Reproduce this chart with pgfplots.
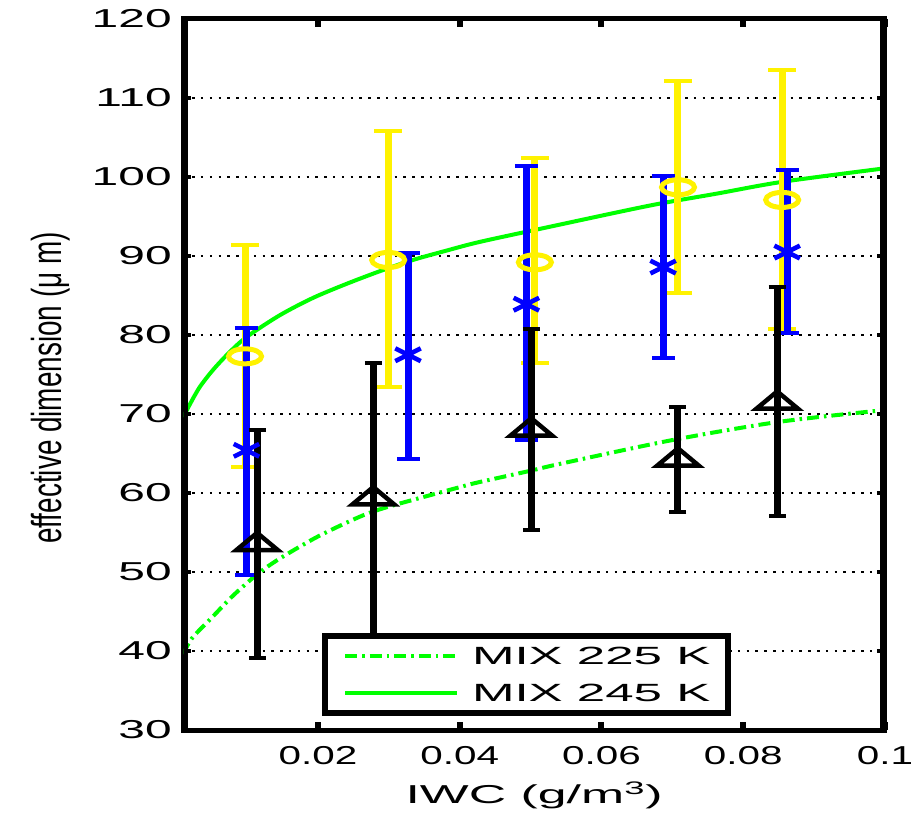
\documentclass[border=0pt]{standalone}
\usepackage{fontspec}
\setmainfont{Liberation Sans}
\usepackage{graphicx}
\usepackage{pgfplots}
\pgfplotsset{compat=1.18}
\usepackage{pgfplotstable}

\newcommand{\sx}[2]{\scalebox{#1}[1]{#2}}

% x  y  error+  error-
\pgfplotstableread{
x      y     ep    em
0.0097 77.3  14.1  14.0
0.0299 89.5  16.3  16.1
0.0506 89.2  13.2  12.7
0.0708 98.7  13.5  13.4
0.0855 97.1  16.4  16.3
}\yellowdata

\pgfplotstableread{
x      y     ep    em
0.0099 65.4  15.5  15.8
0.0327 77.5  12.9  13.2
0.0494 83.9  17.5  17.2
0.0687 88.6  11.5  11.5
0.0862 90.5  10.4  10.2
}\bluedata

\pgfplotstableread{
x      y     ep    em
0.0114 53.5  14.5  14.4
0.0278 59.3  17.2  18.3
0.0501 68.0  12.8  12.7
0.0708 64.2   6.7   6.6
0.0848 71.4  14.7  14.3
}\blackdata

\begin{document}
\begin{tikzpicture}
\path[use as bounding box] (-183.4bp,-84bp) rectangle (738.6bp,730bp);
\begin{axis}[
    at={(0,0)}, anchor=south west,
    scale only axis,
    width=701.5bp, height=711bp,
    xmin=0.001, xmax=0.1,
    ymin=30, ymax=120,
    xtick={0.02,0.04,0.06,0.08,0.1},
    xticklabels={\sx{1.56}{0.02},\sx{1.56}{0.04},\sx{1.56}{0.06},\sx{1.56}{0.08},\sx{1.56}{0.1}},
    ytick={30,40,50,60,70,80,90,100,110,120},
    yticklabels={\sx{1.85}{30},\sx{1.85}{40},\sx{1.85}{50},\sx{1.85}{60},\sx{1.85}{70},\sx{1.85}{80},\sx{1.85}{90},\sx{1.85}{100},\sx{1.85}{110},\sx{1.85}{120}},
    tick label style={font=\fontsize{26}{28}\selectfont, inner sep=0pt},
    xticklabel style={anchor=north, yshift=-16bp},
    yticklabel style={anchor=east, xshift=-11.5bp},
    tick align=inside,
    major tick length=8bp,
    xtick style={line width=6bp, black},
    ytick style={line width=4bp, black},
    axis line style={line width=5bp},
    ymajorgrids,
    major grid style={black, line width=2.5bp, dash pattern=on 2.5bp off 6.3bp},
    xlabel={\sx{2.0}{IWC (g/m\textsuperscript{3})}},
    xlabel style={at={(axis description cs:0.5,-0.1027)}, anchor=base, inner sep=0pt, font=\fontsize{26}{28}\selectfont},
    ylabel={\scalebox{1}[1.5]{effective dimension (μ m)}},
    ylabel style={at={(axis description cs:-0.1896,0.481)}, anchor=center, inner sep=0pt, font=\fontsize{28}{30}\selectfont},
    legend style={at={(rel axis cs:0.1976,0.1364)}, anchor=north west,
        draw=black, line width=6bp, fill=white,
        inner xsep=18bp, inner ysep=11bp,
        row sep=20bp, column sep=13bp,
        cells={anchor=west},
        nodes={inner sep=0pt, text depth=0pt},
        font=\fontsize{25}{27}\selectfont},
    legend image code/.code={\draw[#1] (0bp,0bp) -- (112bp,0bp);},
]
\addplot[green, line width=4bp, dash pattern=on 12bp off 5bp on 2.5bp off 5bp, smooth] coordinates {
    (0.001,39.6) (0.0022,41.6) (0.0052,44.4) (0.008,47.0) (0.0114,49.7)
    (0.0146,51.7) (0.0200,54.5) (0.0259,57.0) (0.0297,58.2) (0.0386,60.4)
    (0.0419,61.2) (0.0499,62.8) (0.0542,63.7) (0.0700,66.7) (0.0850,69.0) (0.1,70.5)
};
\addlegendentry{\sx{2.05}{MIX 225 K}}
\addplot[green, line width=4bp, smooth] coordinates {
    (0.001,69.6) (0.0019,71.2) (0.0033,73.4) (0.0052,75.6) (0.0076,77.9)
    (0.0100,79.8) (0.0146,82.5) (0.0193,84.7) (0.0241,86.5) (0.0288,88.1)
    (0.0334,89.5) (0.0382,90.7) (0.0429,91.8) (0.0527,93.7) (0.0669,96.4)
    (0.0763,97.9) (0.0856,99.4) (0.1,101.1)
};
\addlegendentry{\sx{2.05}{MIX 245 K}}

\addplot[forget plot, yellow, only marks, mark=o, mark size=7.5bp,
    mark options={xscale=2.2, line width=5bp},
    error bars/.cd, y dir=both, y explicit,
    error bar style={line width=7bp},
    error mark options={rotate=90, line width=4bp, mark size=14bp}]
    table[x=x, y=y, y error plus=ep, y error minus=em] {\yellowdata};
\addplot[forget plot, blue, only marks, mark=x, mark size=9bp,
    mark options={xscale=2.0, line width=4.5bp},
    error bars/.cd, y dir=both, y explicit,
    error bar style={line width=7bp},
    error mark options={rotate=90, line width=4bp, mark size=11.5bp}]
    table[x=x, y=y, y error plus=ep, y error minus=em] {\bluedata};
\addplot[forget plot, black, only marks, mark=triangle, mark size=11.5bp,
    mark options={xscale=2.08, line width=4.5bp, fill=none},
    error bars/.cd, y dir=both, y explicit,
    error bar style={line width=7bp},
    error mark options={rotate=90, line width=4bp, mark size=8.5bp}]
    table[x=x, y=y, y error plus=ep, y error minus=em] {\blackdata};

\draw[line width=10bp] (rel axis cs:0,0) -- (rel axis cs:0,1);
\draw[line width=10bp] (rel axis cs:1,0) -- (rel axis cs:1,1);
\end{axis}
\end{tikzpicture}
\end{document}
